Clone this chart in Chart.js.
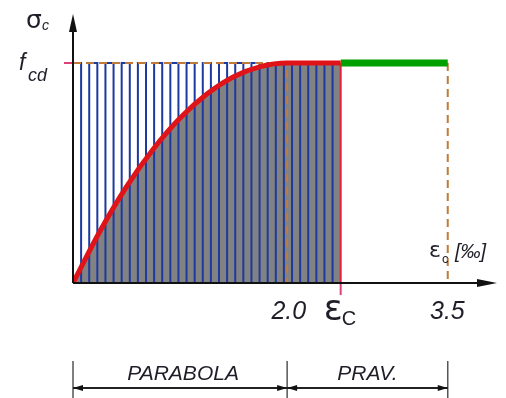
<!DOCTYPE html>
<html>
<head>
<meta charset="utf-8">
<script src="https://cdn.jsdelivr.net/npm/chart.js@4.4.1/dist/chart.umd.min.js"></script>
<style>
  body { margin: 0; background: #fff; }
  canvas { display: block; }
</style>
</head>
<body>
<canvas id="diagram" width="506" height="398"></canvas>
<script>
// strain (per mille) and relative stress sigma/fcd
var parabolaX = [0, 0.25, 0.5, 0.75, 1.0, 1.25, 1.5, 1.75, 2.0, 2.5];
var parabolaY = [0, 0.234, 0.438, 0.609, 0.75, 0.859, 0.938, 0.984, 1.0, 1.0];
var plateauX = [2.5, 3.5];
var plateauY = [1.0, 1.0];
var epsC = 2.5;      // εC
var epsC2 = 2.0;     // end of parabola
var epsCU = 3.5;     // ultimate strain
var fcd = 1.0;
var tickLabels = ["2.0", "3.5"];
var zoneLabels = ["PARABOLA", "PRAV."];

var BLUE = "#1c3aa0";
var ORANGE = "#c07a3a";
var RED = "#e01418";
var GREEN = "#00a000";
var TEXT = "#1e1e28";
var SANS = "'Liberation Sans', Arial, sans-serif";
var GREEK = "'DejaVu Sans', sans-serif";

function pts(xs, ys) {
    return xs.map(function (x, i) { return { x: x, y: ys[i] }; });
}

// hatching: vertical lines from 0 to fcd (a square wave)
var hatch = [];
var nLines = 33;
for (var i = 0; i < nLines; i++) {
    var hx = epsC * i / nLines;
    if (i % 2 === 0) { hatch.push({ x: hx, y: 0 }, { x: hx, y: fcd }); }
    else { hatch.push({ x: hx, y: fcd }, { x: hx, y: 0 }); }
}

var overlay = {
    id: "overlay",
    afterDatasetsDraw: function (chart) {
        var ctx = chart.ctx;
        var xs = chart.scales.x, ys = chart.scales.y;
        var area = chart.chartArea;
        var x0 = xs.getPixelForValue(0), y0 = ys.getPixelForValue(0);
        var yf = ys.getPixelForValue(fcd);
        ctx.save();

        // magenta ticks: fcd on the y axis, εC below the x axis
        ctx.strokeStyle = "#e0407a";
        ctx.lineWidth = 2;
        ctx.beginPath();
        ctx.moveTo(x0 - 9, yf); ctx.lineTo(x0, yf);
        var xe = xs.getPixelForValue(epsC);
        ctx.moveTo(xe, y0); ctx.lineTo(xe, y0 + 12);
        ctx.stroke();

        // axes with arrows
        ctx.strokeStyle = "#111";
        ctx.fillStyle = "#111";
        ctx.lineWidth = 2;
        ctx.beginPath();
        ctx.moveTo(x0, y0); ctx.lineTo(x0, area.top + 10);
        ctx.moveTo(x0, y0); ctx.lineTo(area.right - 10, y0);
        ctx.stroke();
        ctx.beginPath();
        ctx.moveTo(x0, area.top); ctx.lineTo(x0 - 4, area.top + 18); ctx.lineTo(x0 + 4, area.top + 18);
        ctx.closePath(); ctx.fill();
        ctx.beginPath();
        ctx.moveTo(area.right, y0); ctx.lineTo(area.right - 20, y0 - 4); ctx.lineTo(area.right - 20, y0 + 4);
        ctx.closePath(); ctx.fill();

        // texts
        ctx.fillStyle = TEXT;
        ctx.textBaseline = "alphabetic";
        ctx.textAlign = "left";
        ctx.font = "25px " + GREEK;
        ctx.fillText("σ", 26, 28);
        ctx.font = "italic 14px " + SANS;
        ctx.fillText("c", 42, 30);
        ctx.font = "italic 23px " + SANS;
        ctx.fillText("f", 19, 70);
        ctx.font = "italic 18px " + SANS;
        ctx.fillText("cd", 28, 81);

        ctx.font = "22px " + GREEK;
        ctx.fillText("ε", 429, 257);
        ctx.font = "13px " + SANS;
        ctx.fillText("c", 442, 263);
        ctx.font = "italic 20px " + SANS;
        ctx.fillText("[‰]", 455, 258);

        ctx.font = "italic 25px " + SANS;
        ctx.textAlign = "right";
        ctx.fillText(tickLabels[0], xs.getPixelForValue(epsC2) + 19, 319);
        ctx.fillText(tickLabels[1], xs.getPixelForValue(epsCU) + 17, 319);
        ctx.textAlign = "left";
        ctx.font = "35px " + GREEK;
        ctx.fillText("ε", xe - 17, 320);
        ctx.font = "20px " + SANS;
        ctx.fillText("C", xe + 1, 325);

        // dimension line
        var d0 = x0, d1 = xs.getPixelForValue(epsC2), d2 = xs.getPixelForValue(epsCU);
        var dy = 388;
        ctx.strokeStyle = "#555";
        ctx.lineWidth = 1.5;
        ctx.beginPath();
        [d0, d1, d2].forEach(function (d) { ctx.moveTo(d, 361); ctx.lineTo(d, 398); });
        ctx.stroke();
        ctx.strokeStyle = "#222";
        ctx.lineWidth = 2;
        ctx.beginPath();
        ctx.moveTo(d0, dy); ctx.lineTo(d2, dy);
        ctx.stroke();
        ctx.fillStyle = "#111";
        function arrow(xp, dir) {
            ctx.beginPath();
            ctx.moveTo(xp, dy);
            ctx.lineTo(xp + dir * 10, dy - 3);
            ctx.lineTo(xp + dir * 10, dy + 3);
            ctx.closePath(); ctx.fill();
        }
        arrow(d0, 1); arrow(d1, -1); arrow(d1, 1); arrow(d2, -1);

        ctx.fillStyle = TEXT;
        ctx.textAlign = "center";
        ctx.font = "italic 21px " + SANS;
        ctx.fillText(zoneLabels[0], (d0 + d1) / 2 + 3, 380);
        ctx.fillText(zoneLabels[1], (d1 + d2) / 2, 380);
        ctx.restore();
    }
};

new Chart(document.getElementById("diagram"), {
    type: "line",
    data: {
        datasets: [
            {   // red parabola + plateau to εC
                data: pts(parabolaX, parabolaY),
                borderColor: RED, borderWidth: 5,
                cubicInterpolationMode: "monotone",
                pointRadius: 0, fill: false, order: 1
            },
            {   // green plateau
                data: pts(plateauX, plateauY),
                borderColor: GREEN, borderWidth: 7,
                pointRadius: 0, fill: false, order: 1
            },
            {   // εC vertical
                data: [{ x: epsC, y: fcd }, { x: epsC, y: 0 }],
                borderColor: "#e0203c", borderWidth: 2,
                pointRadius: 0, fill: false, order: 2
            },
            {   // orange dashed guides
                data: [{ x: 0, y: fcd }, { x: epsC2, y: fcd }, { x: epsC2, y: 0 }, { x: NaN, y: NaN },
                       { x: epsCU, y: fcd }, { x: epsCU, y: 0 }],
                borderColor: ORANGE, borderWidth: 2, borderDash: [8, 5],
                spanGaps: false, pointRadius: 0, fill: false, order: 3
            },
            {   // blue hatching
                data: hatch,
                borderColor: BLUE, borderWidth: 2,
                pointRadius: 0, fill: false, tension: 0, order: 4
            },
            {   // grey area under the curve
                data: pts(parabolaX, parabolaY),
                borderWidth: 0, borderColor: "rgba(0,0,0,0)",
                backgroundColor: "#828282",
                cubicInterpolationMode: "monotone",
                pointRadius: 0, fill: "origin", order: 5
            }
        ]
    },
    options: {
        responsive: false,
        animation: false,
        devicePixelRatio: 1,
        layout: { padding: { left: 73, right: 9, top: 14, bottom: 115 } },
        scales: {
            x: { type: "linear", min: 0, max: 3.96, display: false },
            y: { type: "linear", min: 0, max: 1.223, display: false }
        },
        plugins: { legend: { display: false }, tooltip: { enabled: false } }
    },
    plugins: [overlay]
});
</script>
</body>
</html>
